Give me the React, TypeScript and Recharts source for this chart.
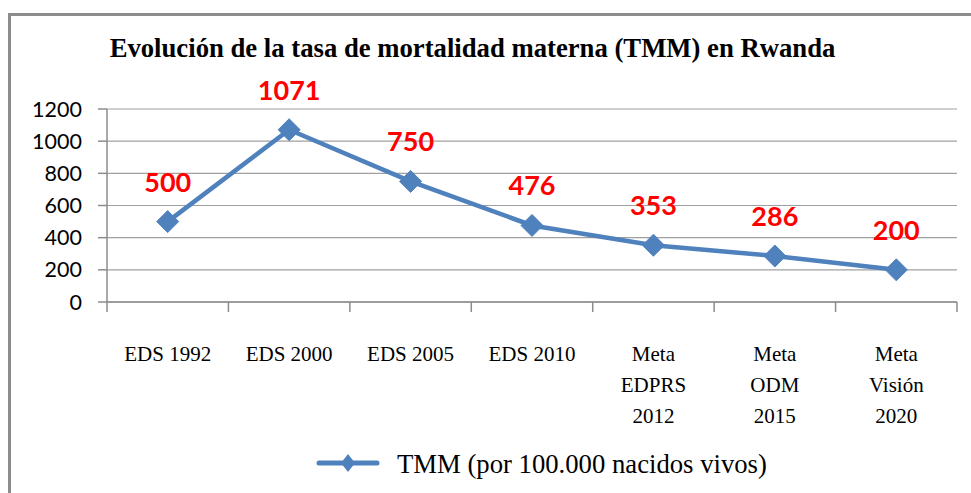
import React from 'react';
import { LineChart, Line, XAxis, YAxis, CartesianGrid, LabelList, Customized } from 'recharts';

const categories = ['EDS 1992', 'EDS 2000', 'EDS 2005', 'EDS 2010', 'Meta EDPRS 2012', 'Meta ODM 2015', 'Meta Visión 2020'];
const categoryLines = [['EDS 1992'], ['EDS 2000'], ['EDS 2005'], ['EDS 2010'], ['Meta', 'EDPRS', '2012'], ['Meta', 'ODM', '2015'], ['Meta', 'Visión', '2020']];
const tmmValues = [500, 1071, 750, 476, 353, 286, 200];
const yTicks = [0, 200, 400, 600, 800, 1000, 1200];
const seriesName = 'TMM (por 100.000 nacidos vivos)';
const chartTitle = 'Evolución de la tasa de mortalidad materna (TMM) en Rwanda';

const data = categories.map((c, i) => ({ category: c, tmm: tmmValues[i] }));

const BLUE = '#4F81BD';
const AXIS = '#8c8c8c';
const SERIF = '"Liberation Serif", "Times New Roman", serif';
const SANS = 'Lato, "Noto Sans", sans-serif';

const XTick = (props: any) => {
  const { x, y, payload } = props;
  const idx = categories.indexOf(payload.value);
  const lines = idx >= 0 ? categoryLines[idx] : [payload.value];
  const half = payload.offset || 0;
  const axisY = y - 9;
  return (
    <g>
      <line x1={x - half} y1={axisY} x2={x - half} y2={axisY + 10} stroke={AXIS} strokeWidth={1.5} />
      {idx === categories.length - 1 && (
        <line x1={x + half} y1={axisY} x2={x + half} y2={axisY + 10} stroke={AXIS} strokeWidth={1.5} />
      )}
      <text x={x} y={y + 50} textAnchor="middle" fontFamily={SERIF} fontSize={21} fill="#000">
        {lines.map((l: string, i: number) => (
          <tspan key={i} x={x} dy={i === 0 ? 0 : 31}>{l}</tspan>
        ))}
      </text>
    </g>
  );
};

const Diamond = (props: any) => {
  const { cx, cy } = props;
  if (cx == null || cy == null) return null;
  const r = 11;
  return <polygon points={`${cx},${cy - r} ${cx + r},${cy} ${cx},${cy + r} ${cx - r},${cy}`} fill={BLUE} stroke={BLUE} strokeWidth={1} />;
};

const ValueLabel = (props: any) => {
  const { x, y, value } = props;
  return (
    <text x={x} y={y - 30} textAnchor="middle" fontFamily={SANS} fontWeight="bold" fontSize={27} fill="#FF0000">
      {value}
    </text>
  );
};

const Title = () => (
  <text x={472.5} y={57} textAnchor="middle" fontFamily={SERIF} fontWeight="bold" fontSize={26.7} fill="#000">
    {chartTitle}
  </text>
);

export default function App() {
  return (
    <div style={{ position: 'absolute', left: 0, top: 0, width: 971, height: 493, background: '#fff' }}>
      <div style={{ position: 'absolute', left: 8, top: 13, width: 971 - 8, height: 493 - 13, borderTop: `3px solid ${AXIS}`, borderLeft: `3px solid ${AXIS}`, boxSizing: 'border-box' }} />
      <LineChart width={971} height={493} data={data} margin={{ top: 109, right: 14, bottom: 0, left: 0 }}>
        <CartesianGrid vertical={false} stroke="#a0a0a0" strokeWidth={1.2} />
        <XAxis
          dataKey="category"
          scale="band"
          height={191}
          interval={0}
          tickSize={9}
          tickMargin={0}
          tick={<XTick />}
          axisLine={{ stroke: AXIS, strokeWidth: 1.5 }}
          tickLine={false}
        />
        <YAxis
          width={107}
          domain={[0, 1200]}
          ticks={yTicks}
          interval={0}
          tickSize={9}
          tickMargin={16}
          tick={{ fontFamily: SANS, fontSize: 21.5, fill: '#000' }}
          axisLine={{ stroke: AXIS, strokeWidth: 1.5 }}
          tickLine={{ stroke: AXIS, strokeWidth: 1.5 }}
        />
        <Line
          type="linear"
          dataKey="tmm"
          name={seriesName}
          stroke={BLUE}
          strokeWidth={4.5}
          dot={<Diamond />}
          activeDot={false}
          isAnimationActive={false}
        >
          <LabelList dataKey="tmm" content={<ValueLabel />} />
        </Line>
        <Customized component={<Title />} />
      </LineChart>
      <svg width={480} height={45} style={{ position: 'absolute', left: 310, top: 443, display: 'block' }}>
        <line x1={9} y1={20} x2={67} y2={20} stroke={BLUE} strokeWidth={5} strokeLinecap="round" />
        <polygon points={`38,11 45,20 38,29 31,20`} fill={BLUE} />
        <text x={87} y={30} fontFamily={SERIF} fontSize={26.7} fill="#000">{seriesName}</text>
      </svg>
    </div>
  );
}
